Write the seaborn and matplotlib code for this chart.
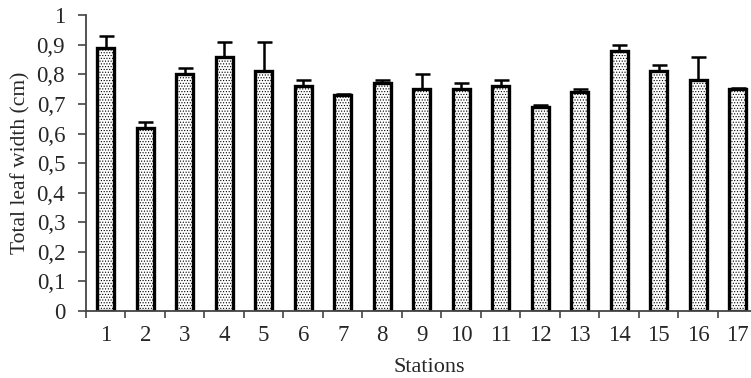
import numpy as np
import pandas as pd
import matplotlib
matplotlib.use("Agg")
import matplotlib.pyplot as plt
import seaborn as sns

# Mean total leaf width per station and upper standard error
stations = [str(i) for i in range(1, 18)]
leaf_width = [0.89, 0.62, 0.80, 0.86, 0.81, 0.76, 0.73, 0.77, 0.75,
              0.75, 0.76, 0.69, 0.74, 0.88, 0.81, 0.78, 0.75]
leaf_err = [0.04, 0.02, 0.02, 0.05, 0.10, 0.02, 0.003, 0.01, 0.05,
            0.02, 0.02, 0.005, 0.01, 0.02, 0.02, 0.08, 0.003]
y_ticks = [0, 0.1, 0.2, 0.3, 0.4, 0.5, 0.6, 0.7, 0.8, 0.9, 1]
y_tick_labels = ["0", "0,1", "0,2", "0,3", "0,4", "0,5", "0,6", "0,7",
                 "0,8", "0,9", "1"]

df = pd.DataFrame({"Station": stations, "Width": leaf_width})

sns.set_theme(style="white")
plt.rcParams["font.family"] = ["Liberation Serif", "DejaVu Serif"]
plt.rcParams["hatch.linewidth"] = 0.5
plt.rcParams["hatch.color"] = "#444444"

fig = plt.figure(figsize=(7.51, 3.78), dpi=100)
ax = fig.add_axes([0.1145, 0.177, 0.894, 0.783])

sns.barplot(data=df, x="Station", y="Width", ax=ax, width=0.43,
            color="white", edgecolor="black", linewidth=2.4,
            hatch="......", errorbar=None, zorder=2)

pos = np.arange(len(stations))
ax.errorbar(pos, leaf_width, yerr=[np.zeros(len(leaf_err)), leaf_err],
            fmt="none", ecolor="black", elinewidth=1.8, capsize=5.4,
            capthick=1.8, zorder=1)

ax.set_xlim(-0.5, len(stations) - 0.5)
ax.set_ylim(0, 1)
ax.set_yticks(y_ticks)
ax.set_yticklabels(y_tick_labels, fontsize=16.5)

# Category labels centered, tick marks between categories
ax.set_xticks(pos)
ax.set_xticklabels(stations, fontsize=16.5)
ax.set_xticks(np.arange(len(stations) + 1) - 0.5, minor=True)
ax.tick_params(axis="x", which="major", length=0, pad=10)
ax.tick_params(axis="x", which="minor", length=5, width=1.2,
               color="#444444", direction="out", bottom=True)
ax.tick_params(axis="y", which="major", length=6, width=1.2,
               color="#444444", direction="out", left=True, pad=9)

for side in ["top", "right"]:
    ax.spines[side].set_visible(False)
for side in ["left", "bottom"]:
    ax.spines[side].set_color("#444444")
    ax.spines[side].set_linewidth(1.3)

ax.set_xlabel("Stations", fontsize=16)
ax.set_ylabel("Total leaf width (cm)", fontsize=15.5)
ax.xaxis.set_label_coords(0.512, -0.158)
ax.yaxis.set_label_coords(-0.082, 0.5)

fig.savefig("out.png", dpi=100)
